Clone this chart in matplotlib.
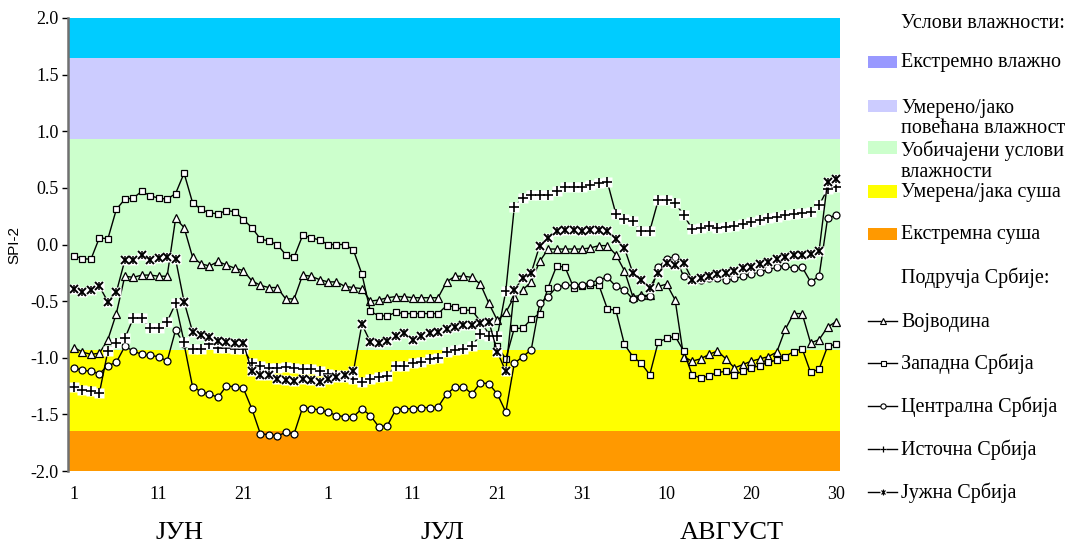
import matplotlib
matplotlib.use('Agg')
import matplotlib.pyplot as plt
from matplotlib.lines import Line2D
from matplotlib.patches import Rectangle

# ---------------- data ----------------
days = list(range(91))  # 1 June .. 30 August
tick_pos = [0, 10, 20, 30, 40, 50, 60, 70, 80, 90]
tick_labels = ['1', '11', '21', '1', '11', '21', '31', '10', '20', '30']
months = ['ЈУН', 'ЈУЛ', 'АВГУСТ']
month_pos = [12.5, 43.5, 77.7]

band_edges = [2.0, 1.65, 0.93, -0.93, -1.65, -2.0]
band_colors = ['#00CCFF', '#CCCCFF', '#CCFFCC', '#FFFF00', '#FF9900']
legend_colors = ['#9999FF', '#CCCCFF', '#CCFFCC', '#FFFF00', '#FF9900']
legend_band_labels = ['Екстремно влажно', 'Умерено/јако\nповећана влажност',
                      'Уобичајени услови\nвлажности', 'Умерена/јака суша', 'Екстремна суша']
series_names = ['Војводина', 'Западна Србија', 'Централна Србија', 'Источна Србија', 'Јужна Србија']

vojvodina = [-0.91, -0.95, -0.97, -0.96, -0.84, -0.61, -0.28, -0.29, -0.27, -0.27,
             -0.28, -0.28, 0.23, 0.15, -0.11, -0.17, -0.19, -0.15, -0.18, -0.21,
             -0.23, -0.32, -0.36, -0.38, -0.38, -0.48, -0.48, -0.27, -0.28, -0.31,
             -0.33, -0.33, -0.37, -0.38, -0.39, -0.50, -0.49, -0.47, -0.46, -0.46,
             -0.47, -0.47, -0.47, -0.47, -0.33, -0.28, -0.28, -0.29, -0.35, -0.52,
             -0.67, -0.60, -0.46, -0.40, -0.33, -0.15, -0.04, -0.04, -0.04, -0.04,
             -0.04, -0.03, -0.01, -0.01, -0.09, -0.23, -0.46, -0.45, -0.45, -0.37,
             -0.35, -0.49, -0.99, -1.03, -1.01, -0.97, -0.94, -1.01, -1.09, -1.06,
             -1.03, -1.01, -0.99, -0.95, -0.75, -0.61, -0.61, -0.87, -0.84, -0.73,
             -0.68]
zapadna = [-0.10, -0.125, -0.13, 0.06, 0.05, 0.31, 0.40, 0.41, 0.47, 0.43,
           0.41, 0.40, 0.45, 0.63, 0.37, 0.31, 0.28, 0.27, 0.30, 0.29,
           0.22, 0.15, 0.05, 0.03, 0.00, -0.09, -0.11, 0.08, 0.06, 0.04,
           0.00, 0.00, 0.00, -0.05, -0.26, -0.59, -0.63, -0.63, -0.60, -0.61,
           -0.61, -0.61, -0.61, -0.61, -0.54, -0.55, -0.58, -0.58, -0.68, -0.79,
           -0.90, -1.01, -0.74, -0.74, -0.66, -0.61, -0.38, -0.19, -0.20, -0.38,
           -0.37, -0.36, -0.36, -0.57, -0.58, -0.88, -0.99, -1.05, -1.15, -0.86,
           -0.83, -0.81, -0.94, -1.15, -1.18, -1.16, -1.13, -1.12, -1.15, -1.12,
           -1.09, -1.07, -1.04, -1.02, -0.99, -0.945, -0.92, -1.13, -1.10, -0.90,
           -0.88]
centralna = [-1.09, -1.11, -1.12, -1.14, -1.07, -1.04, -0.90, -0.94, -0.97, -0.98,
             -0.99, -1.03, -0.755, -0.88, -1.255, -1.30, -1.32, -1.35, -1.25, -1.255,
             -1.27, -1.45, -1.67, -1.68, -1.69, -1.66, -1.67, -1.44, -1.45, -1.46,
             -1.48, -1.51, -1.52, -1.52, -1.45, -1.51, -1.61, -1.60, -1.46, -1.45,
             -1.45, -1.44, -1.44, -1.435, -1.32, -1.26, -1.255, -1.32, -1.22, -1.23,
             -1.32, -1.48, -1.05, -0.99, -0.93, -0.52, -0.46, -0.375, -0.36, -0.36,
             -0.355, -0.34, -0.31, -0.29, -0.37, -0.40, -0.48, -0.46, -0.455, -0.20,
             -0.13, -0.11, -0.28, -0.31, -0.31, -0.30, -0.30, -0.31, -0.30, -0.28,
             -0.26, -0.24, -0.22, -0.20, -0.19, -0.21, -0.20, -0.33, -0.28, 0.23,
             0.26]
istocna = [-1.255, -1.285, -1.29, -1.31, -0.94, -0.87, -0.83, -0.65, -0.65, -0.74,
           -0.74, -0.68, -0.52, -0.86, -0.92, -0.92, -0.88, -0.91, -0.91, -0.92,
           -0.92, -1.05, -1.07, -1.09, -1.09, -1.085, -1.09, -1.10, -1.10, -1.12,
           -1.14, -1.15, -1.17, -1.19, -1.21, -1.19, -1.17, -1.16, -1.07, -1.07,
           -1.05, -1.035, -1.01, -1.00, -0.95, -0.93, -0.92, -0.90, -0.79, -0.81,
           -0.81, -0.41, 0.33, 0.41, 0.44, 0.44, 0.44, 0.47, 0.505, 0.51,
           0.51, 0.525, 0.54, 0.55, 0.27, 0.225, 0.21, 0.115, 0.12, 0.39,
           0.39, 0.37, 0.26, 0.14, 0.15, 0.165, 0.145, 0.155, 0.165, 0.18,
           0.20, 0.215, 0.23, 0.245, 0.26, 0.27, 0.28, 0.29, 0.345, 0.49,
           0.51]
juzna = [-0.39, -0.42, -0.40, -0.37, -0.505, -0.42, -0.14, -0.14, -0.09, -0.14,
         -0.12, -0.11, -0.13, -0.505, -0.77, -0.80, -0.82, -0.85, -0.86, -0.87,
         -0.87, -1.12, -1.15, -1.15, -1.19, -1.20, -1.205, -1.19, -1.20, -1.21,
         -1.19, -1.17, -1.15, -1.12, -0.705, -0.86, -0.87, -0.85, -0.81, -0.78,
         -0.84, -0.81, -0.78, -0.77, -0.75, -0.73, -0.71, -0.71, -0.69, -0.68,
         -0.95, -1.12, -0.40, -0.30, -0.25, -0.01, 0.06, 0.12, 0.13, 0.13,
         0.12, 0.13, 0.13, 0.12, 0.05, -0.03, -0.25, -0.31, -0.38, -0.25,
         -0.16, -0.18, -0.16, -0.31, -0.30, -0.28, -0.26, -0.25, -0.23, -0.21,
         -0.20, -0.175, -0.155, -0.13, -0.11, -0.09, -0.09, -0.08, -0.055, 0.555,
         0.575]

series = [vojvodina, zapadna, centralna, istocna, juzna]

# ---------------- style ----------------
W, H = 1084, 546
SERIF = ['Liberation Serif', 'DejaVu Serif']
plt.rcParams['font.family'] = SERIF


def fx(x):
    return x / W


def fy(y):
    return 1 - y / H


fig = plt.figure(figsize=(W / 100, H / 100), dpi=100)
ax = fig.add_axes([fx(68), fy(471), fx(840) - fx(68), fy(18) - fy(471)])

for top, bot, col in zip(band_edges[:-1], band_edges[1:], band_colors):
    ax.axhspan(bot, top, color=col, lw=0, zorder=0)

ax.set_xlim(-0.71, 90.47)
ax.set_ylim(-2.0, 2.0)


def draw_series(ax, x, y, kind, zo=3):
    ax.plot(x, y, color='black', lw=1.0, zorder=zo)
    if kind == 'tri':
        ax.plot(x, y, ls='none', marker='^', ms=5.4, mfc='white', mec='black', mew=0.9, zorder=zo)
    elif kind == 'sq':
        ax.plot(x, y, ls='none', marker='s', ms=4.8, mfc='white', mec='black', mew=0.9, zorder=zo)
    elif kind == 'circ':
        ax.plot(x, y, ls='none', marker='o', ms=5.0, mfc='white', mec='black', mew=0.9, zorder=zo)
    elif kind == 'plus':
        ax.plot(x, y, ls='none', marker='s', ms=7.0, mfc='white', mec='none', zorder=zo)
        ax.plot(x, y, ls='none', marker='+', ms=6.8, mec='black', mew=1.2, zorder=zo)
    elif kind == 'star':
        ax.plot(x, y, ls='none', marker='s', ms=7.0, mfc='white', mec='none', zorder=zo)
        ax.plot(x, y, ls='none', marker='x', ms=5.2, mec='black', mew=1.4, zorder=zo)
        ax.plot(x, y, ls='none', marker='|', ms=6.2, mec='black', mew=1.1, zorder=zo)


kinds = ['tri', 'sq', 'circ', 'plus', 'star']
for k, (vals, kind) in enumerate(zip(series, kinds)):
    draw_series(ax, days, vals, kind, zo=3 + k)

# axes styling
for s in ['top', 'right', 'bottom']:
    ax.spines[s].set_visible(False)
ax.spines['left'].set_color('#707070')
ax.spines['left'].set_linewidth(1.8)
ax.spines['left'].set_zorder(20)

yt = [-2.0, -1.5, -1.0, -0.5, 0.0, 0.5, 1.0, 1.5, 2.0]
ax.set_yticks(yt)
ax.set_yticklabels(['%.1f' % v for v in yt], fontsize=13)
ax.tick_params(axis='y', direction='out', length=4.5, width=1.0, color='black', pad=2)
ax.set_xticks(tick_pos)
ax.set_xticklabels(tick_labels, fontsize=13)
ax.tick_params(axis='x', length=0, pad=11)

ax.set_ylabel('SPI-2', family='Liberation Sans', fontsize=11, labelpad=7)

month_y = -(533 - 471) / 453
for lab, pos in zip(months, month_pos):
    ax.text(pos, month_y, lab, transform=ax.get_xaxis_transform(), ha='center', va='center',
            fontsize=19)

# ---------------- legend (manual) ----------------
LX = 901
fs_leg = 14.5
fig.text(fx(LX), fy(23), 'Услови влажности:', fontsize=fs_leg, va='center', ha='left')
patch_y = [62, 106, 147.5, 191.5, 234]
text_y = [63, 118.5, 161, 192, 235]
for col, lab, pyv, tyv in zip(legend_colors, legend_band_labels, patch_y, text_y):
    fig.add_artist(Rectangle((fx(868), fy(pyv + 6)), fx(897) - fx(868), (12) / H,
                             transform=fig.transFigure, facecolor=col, edgecolor='none'))
    fig.text(fx(LX), fy(tyv), lab, fontsize=fs_leg, va='center', ha='left', linespacing=1.12)

fig.text(fx(LX), fy(278), 'Подручја Србије:', fontsize=fs_leg, va='center', ha='left')
line_y = [321, 363, 406, 449, 492]
leg_markers = {'tri': dict(marker='^', ms=3.8, mfc='white', mec='black', mew=0.8),
               'sq': dict(marker='s', ms=3.6, mfc='white', mec='black', mew=0.8),
               'circ': dict(marker='o', ms=3.8, mfc='white', mec='black', mew=0.8)}
for name, kind, ly in zip(series_names, kinds, line_y):
    yy = fy(ly)
    fig.add_artist(Line2D([fx(868), fx(897)], [yy, yy], transform=fig.transFigure, color='black', lw=1.0))
    xc = fx(882.5)
    if kind in leg_markers:
        fig.add_artist(Line2D([xc], [yy], transform=fig.transFigure, ls='none', **leg_markers[kind]))
    else:
        fig.add_artist(Line2D([xc], [yy], transform=fig.transFigure, ls='none', marker='s', ms=5,
                              mfc='white', mec='none'))
        if kind == 'plus':
            fig.add_artist(Line2D([xc], [yy], transform=fig.transFigure, ls='none', marker='+', ms=4.5,
                                  mec='black', mew=0.9))
        else:
            fig.add_artist(Line2D([xc], [yy], transform=fig.transFigure, ls='none', marker='x', ms=3.5,
                                  mec='black', mew=0.9))
            fig.add_artist(Line2D([xc], [yy], transform=fig.transFigure, ls='none', marker='|', ms=4.0,
                                  mec='black', mew=0.8))
    fig.text(fx(LX), fy(ly + 1), name, fontsize=fs_leg, va='center', ha='left')

fig.savefig('out.png', dpi=100)
